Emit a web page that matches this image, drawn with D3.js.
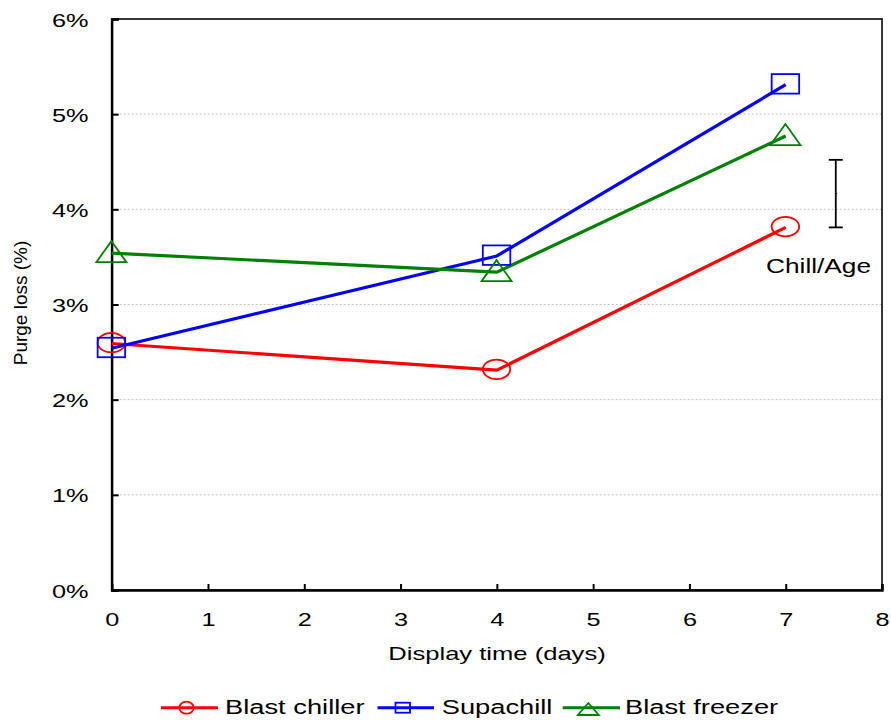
<!DOCTYPE html>
<html>
<head>
<meta charset="utf-8">
<script src="https://cdn.jsdelivr.net/npm/d3@7"></script>
<style>
  html, body { margin: 0; padding: 0; background: #fff; }
  text { font-family: "Liberation Sans", Arial, sans-serif; fill: #000; }
</style>
</head>
<body>
<svg id="chart" width="891" height="720"></svg>
<script>
// Purge loss over display time for three chilling methods
const days = [0, 4, 7];
const blastChiller = [2.59, 2.31, 3.81];
const supachill = [2.54, 3.51, 5.31];
const blastFreezer = [3.54, 3.34, 4.77];

const seriesNames = ["Blast chiller", "Supachill", "Blast freezer"];
const seriesColors = ["#ff0000", "#0000ff", "#008000"];
const seriesShapes = ["circle", "square", "triangle"];

const xTicks = [0, 1, 2, 3, 4, 5, 6, 7, 8];
const yTicks = [0, 1, 2, 3, 4, 5, 6];

// Chill/Age LSD bar
const lsdX = 7.52;
const lsdLow = 3.81;
const lsdHigh = 4.52;
const lsdLabel = "Chill/Age";

const series = [blastChiller, supachill, blastFreezer].map((vals, i) => ({
  name: seriesNames[i],
  color: seriesColors[i],
  shape: seriesShapes[i],
  points: vals.map((v, j) => ({ x: days[j], y: v }))
}));

const svg = d3.select("#chart");
const x = d3.scaleLinear().domain([0, 8]).range([111.7, 882]);
const y = d3.scaleLinear().domain([0, 6]).range([590, 19]);
const SX = 1.36; // horizontal text width factor

function stretchedText(g, tx, ty, str, size, anchor, sx) {
  return g.append("text")
    .attr("transform", `translate(${tx},${ty}) scale(${sx},1)`)
    .attr("text-anchor", anchor)
    .attr("font-size", size)
    .text(str);
}

// Horizontal gridlines
svg.append("g").selectAll("line")
  .data(yTicks.filter(d => d > 0 && d < 6))
  .join("line")
  .attr("x1", x(0)).attr("x2", x(8))
  .attr("y1", d => y(d)).attr("y2", d => y(d))
  .attr("stroke", "#c4c4c4").attr("stroke-width", 1)
  .attr("stroke-dasharray", "2,2");

// Frame
svg.append("rect")
  .attr("x", x(0)).attr("y", y(6))
  .attr("width", x(8) - x(0)).attr("height", y(0) - y(6))
  .attr("fill", "none").attr("stroke", "#222").attr("stroke-width", 1.8);

// Left axis: inward ticks
const yAxis = d3.axisLeft(y).tickValues(yTicks).tickSize(-7).tickFormat("");
const gy = svg.append("g").attr("transform", `translate(${x(0)},0)`).call(yAxis);
gy.select(".domain").attr("stroke", "#000").attr("stroke-width", 2.3);
gy.selectAll(".tick line").attr("stroke", "#000").attr("stroke-width", 2);

// Bottom axis: inward ticks
const xAxis = d3.axisBottom(x).tickValues(xTicks).tickSize(-6).tickFormat("");
const gx = svg.append("g").attr("transform", `translate(0,${y(0)})`).call(xAxis);
gx.select(".domain").attr("stroke", "#000").attr("stroke-width", 2.3);
gx.selectAll(".tick line").attr("stroke", "#000").attr("stroke-width", 2);

// Tick labels
const labels = svg.append("g");
yTicks.forEach(t => stretchedText(labels, 88.5, y(t) + 7.5, t + "%", 18.6, "end", SX));
xTicks.forEach(t => stretchedText(labels, x(t) + 0.5, 626, String(t), 18.6, "middle", SX));

// Axis titles
stretchedText(svg, 497, 660, "Display time (days)", 18.8, "middle", SX);
svg.append("text")
  .attr("transform", `translate(26.5,303) rotate(-90)`)
  .attr("text-anchor", "middle")
  .attr("font-size", 19)
  .text("Purge loss (%)");

// Marker drawing
function drawMarker(g, shape, color, cx, cy, w, h, sw) {
  if (shape === "circle") {
    g.append("ellipse").attr("cx", cx).attr("cy", cy)
      .attr("rx", w / 2).attr("ry", h / 2)
      .attr("fill", "none").attr("stroke", color).attr("stroke-width", sw);
  } else if (shape === "square") {
    g.append("rect").attr("x", cx - w / 2).attr("y", cy - h / 2)
      .attr("width", w).attr("height", h)
      .attr("fill", "none").attr("stroke", color).attr("stroke-width", sw);
  } else {
    const top = cy - h / 2, bot = cy + h / 2;
    g.append("path")
      .attr("d", `M${cx},${top}L${cx + w / 2},${bot}L${cx - w / 2},${bot}Z`)
      .attr("fill", "none").attr("stroke", color).attr("stroke-width", sw)
      .attr("stroke-linejoin", "miter");
  }
}

// Series lines and markers
const line = d3.line().x(d => x(d.x)).y(d => y(d.y));
const plot = svg.append("g");
series.forEach(s => {
  plot.append("path").datum(s.points)
    .attr("d", line)
    .attr("fill", "none").attr("stroke", s.color).attr("stroke-width", 3.2)
    .attr("stroke-linejoin", "round");
});
series.forEach(s => {
  s.points.forEach(p => {
    const w = s.shape === "triangle" ? 30 : 27.5;
    const h = s.shape === "triangle" ? 21 : 19.5;
    const dy = s.shape === "triangle" ? -1.5 : -0.8;
    drawMarker(plot, s.shape, s.color, x(p.x) - 0.3, y(p.y) + dy, w, h, 1.8);
  });
});

// LSD bar
const lsd = svg.append("g").attr("stroke", "#000").attr("stroke-width", 1.8);
lsd.append("line").attr("x1", x(lsdX)).attr("x2", x(lsdX))
  .attr("y1", y(lsdHigh)).attr("y2", y(lsdLow));
[lsdHigh, lsdLow].forEach(v => lsd.append("line")
  .attr("x1", x(lsdX) - 7).attr("x2", x(lsdX) + 7)
  .attr("y1", y(v)).attr("y2", y(v)));
lsd.append("line").attr("x1", x(lsdX) - 1).attr("x2", x(lsdX) + 1.5)
  .attr("y1", y((lsdHigh + lsdLow) / 2)).attr("y2", y((lsdHigh + lsdLow) / 2))
  .attr("stroke-width", 1);
stretchedText(svg, 818.5, 273, lsdLabel, 19.3, "middle", SX);

// Legend
const legendItems = [
  { lineX: [161, 218], text: 225 },
  { lineX: [377.5, 434], text: 441.7 },
  { lineX: [562.7, 620], text: 625 }
];
const legend = svg.append("g");
series.forEach((s, i) => {
  const it = legendItems[i];
  const ly = 707.7;
  legend.append("line").attr("x1", it.lineX[0]).attr("x2", it.lineX[1])
    .attr("y1", ly).attr("y2", ly)
    .attr("stroke", s.color).attr("stroke-width", 3);
  const cx = (it.lineX[0] + it.lineX[1]) / 2 - 3;
  const w = s.shape === "triangle" ? 21 : 14.5;
  const h = s.shape === "triangle" ? 12 : (s.shape === "circle" ? 12 : 10);
  drawMarker(legend, s.shape, s.color, cx, s.shape === "triangle" ? 709 : ly, w, h, 1.8);
  stretchedText(legend, it.text, 714.3, s.name, 21, "start", 1.3);
});
</script>
</body>
</html>
